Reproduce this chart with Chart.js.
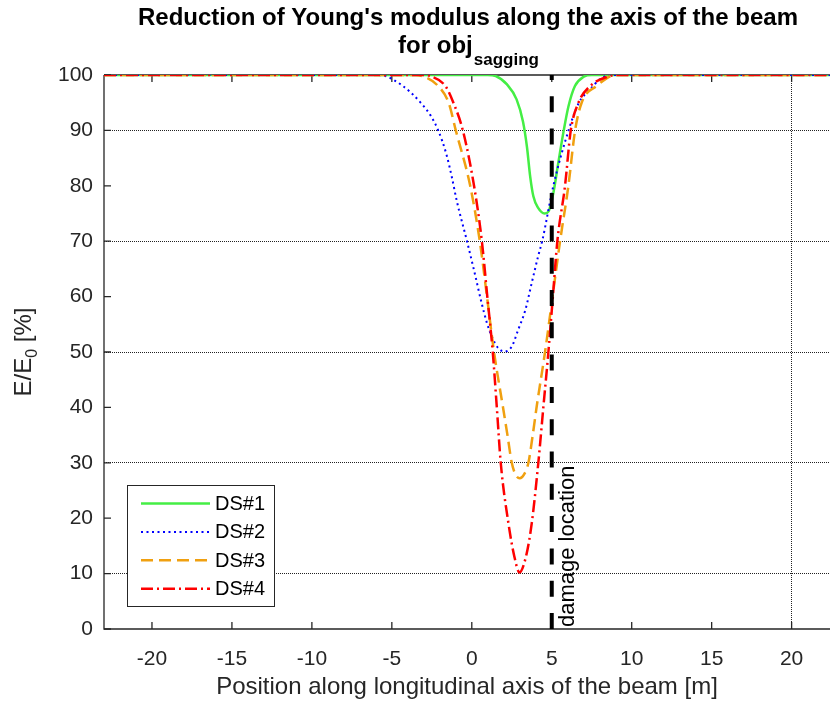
<!DOCTYPE html>
<html>
<head>
<meta charset="utf-8">
<script src="https://cdn.jsdelivr.net/npm/chart.js@4.4.1/dist/chart.umd.min.js"></script>
<style>
    html, body { margin: 0; padding: 0; background: #fff; }
    canvas { display: block; }
</style>
</head>
<body>
<canvas id="grafico" width="830" height="706"></canvas>
<script>
// testi
const titolo1 = "Reduction of Young's modulus along the axis of the beam";
const titolo2 = 'for obj';
const titolo2Pedice = 'sagging';
const etichettaX = 'Position along longitudinal axis of the beam [m]';
const etichettaY = ['E/E', '0', ' [%]'];
const testoDanno = 'damage location';

// assi
const serieNomi = ['DS#1', 'DS#2', 'DS#3', 'DS#4'];
const xMin = -23, xMax = 22.4;
const xTicks = [-20, -15, -10, -5, 0, 5, 10, 15, 20];
const yTicks = [0, 10, 20, 30, 40, 50, 60, 70, 80, 90, 100];
const xGriglia = [20];
const yGriglia = [10, 30, 50, 70, 90];
const posizioneDanno = 5;
const yDanno = [0, 100];

// valori
const ds1X = [-23, 1, 1.5, 2.2, 2.8, 3.2, 3.45, 3.65, 3.85, 4.15, 4.55, 4.8, 5.1, 5.4, 5.75, 6.05, 6.45, 7, 7.5, 22.4];
const ds1Y = [100, 100, 99.8, 98.3, 95.6, 91.6, 87, 81.7, 78.1, 76, 75, 75.4, 78.7, 84, 90, 94.4, 98, 99.7, 100, 100];

const ds2X = [-23, -6, -5.5, -5, -4.4, -3.8, -3.2, -2.6, -2.1, -1.6, -1.25, -0.95, -0.3, 0.2, 0.6, 0.95, 1.25, 1.65, 2.05, 2.5, 2.9, 3.35, 3.75, 4.15, 4.4, 5.1, 6.05, 6.7, 7.4, 8, 8.7, 22.4];
const ds2Y = [100, 100, 99.9, 99.3, 98.2, 96.8, 95, 92.8, 90, 85.8, 81.6, 77.4, 70, 64, 59, 55.2, 52.8, 50.7, 50.1, 51, 54, 57.6, 62.5, 67.3, 70, 80, 90, 95, 97.4, 99.2, 100, 100];

const ds3X = [-23, -3.5, -3, -2.1, -1.45, -1, -0.1, 0.5, 0.95, 1.39, 1.94, 2.23, 2.5, 2.75, 3.0, 3.25, 3.54, 3.81, 4.06, 4.58, 5.05, 5.52, 6.04, 6.46, 6.87, 7.8, 9, 22.4];
const ds3Y = [100, 100, 99.7, 98, 95, 90, 80, 70, 60, 50, 40.2, 35, 30, 27.8, 27.2, 27.8, 30, 35, 40.2, 50, 60, 70, 80, 90, 95, 98, 100, 100];

const ds4X = [-23, -3, -2.6, -1.65, -1.15, -0.56, 0.14, 0.63, 0.97, 1.31, 1.56, 1.81, 2.29, 2.66, 2.98, 3.39, 3.75, 4.16, 4.48, 4.79, 5.07, 5.35, 5.83, 6.19, 6.67, 7.4, 8.5, 9, 22.4];
const ds4Y = [100, 100, 99.8, 98, 95, 90, 80, 70, 60, 50, 40.2, 30, 19.1, 13.1, 10.2, 13.1, 19.1, 30, 40.2, 50, 60, 70, 80, 90, 95, 98, 99.7, 100, 100];

const fontBase = '"Liberation Sans", Arial, Helvetica, sans-serif';
const grigioScuro = '#262626';

function serie(xs, ys) {
    return xs.map((x, i) => ({ x: x, y: ys[i] }));
}

function coloreGriglia(valori) {
    return function (c) {
        return (c.tick && valori.includes(c.tick.value)) ? '#222222' : 'rgba(0,0,0,0)';
    };
}

// box, tacche interne, titoli, legenda e testo della linea di danno
const pluginDecorazioni = {
    id: 'decorazioni',
    beforeDatasetsDraw: function (chart) {
        const ctx = chart.ctx, a = chart.chartArea;
        const sx = chart.scales.x, sy = chart.scales.y;
        ctx.save();
        ctx.strokeStyle = grigioScuro;
        ctx.lineWidth = 1.3;
        ctx.beginPath();
        ctx.moveTo(a.left, a.top);
        ctx.lineTo(a.right + 5, a.top);
        ctx.moveTo(a.left, a.top);
        ctx.lineTo(a.left, a.bottom);
        ctx.lineTo(a.right + 5, a.bottom);
        ctx.stroke();

        ctx.beginPath();
        xTicks.forEach(function (v) {
            const p = sx.getPixelForValue(v);
            ctx.moveTo(p, a.bottom);
            ctx.lineTo(p, a.bottom - 7);
            ctx.moveTo(p, a.top);
            ctx.lineTo(p, a.top + 7);
        });
        yTicks.forEach(function (v) {
            const p = sy.getPixelForValue(v);
            ctx.moveTo(a.left, p);
            ctx.lineTo(a.left + 7, p);
        });
        ctx.stroke();
        ctx.restore();
    },
    afterDraw: function (chart) {
        const ctx = chart.ctx, a = chart.chartArea;
        const sx = chart.scales.x;
        const cx = (a.left + a.right) / 2 + 1;
        ctx.save();

        // titolo
        ctx.fillStyle = '#000';
        ctx.textBaseline = 'alphabetic';
        ctx.textAlign = 'center';
        ctx.font = 'bold 24px ' + fontBase;
        ctx.fillText(titolo1, cx, 25);
        ctx.textAlign = 'left';
        const w1 = ctx.measureText(titolo2).width;
        ctx.font = 'bold 17px ' + fontBase;
        const w2 = ctx.measureText(titolo2Pedice).width;
        const x0 = cx - (w1 + w2) / 2;
        ctx.font = 'bold 24px ' + fontBase;
        ctx.fillText(titolo2, x0, 53);
        ctx.font = 'bold 17px ' + fontBase;
        ctx.fillText(titolo2Pedice, x0 + w1 + 1, 65);

        // etichetta asse y
        ctx.fillStyle = grigioScuro;
        ctx.save();
        ctx.translate(31, (a.top + a.bottom) / 2);
        ctx.rotate(-Math.PI / 2);
        ctx.font = '24px ' + fontBase;
        const e1 = ctx.measureText(etichettaY[0]).width;
        const e3 = ctx.measureText(etichettaY[2]).width;
        ctx.font = '16px ' + fontBase;
        const e2 = ctx.measureText(etichettaY[1]).width;
        let px = -(e1 + e2 + e3) / 2;
        ctx.font = '24px ' + fontBase;
        ctx.fillText(etichettaY[0], px, 0);
        ctx.font = '16px ' + fontBase;
        ctx.fillText(etichettaY[1], px + e1, 6);
        ctx.font = '24px ' + fontBase;
        ctx.fillText(etichettaY[2], px + e1 + e2, 0);
        ctx.restore();

        // testo della linea di danno
        ctx.save();
        ctx.fillStyle = '#000';
        ctx.font = '22px ' + fontBase;
        ctx.translate(sx.getPixelForValue(posizioneDanno) + 22, a.bottom - 2);
        ctx.rotate(-Math.PI / 2);
        ctx.textAlign = 'left';
        ctx.fillText(testoDanno, 0, 0);
        ctx.restore();

        // legenda
        const bx = a.left + 23, by = a.bottom - 144, bw = 147, bh = 121;
        ctx.fillStyle = '#fff';
        ctx.fillRect(bx, by, bw, bh);
        ctx.strokeStyle = grigioScuro;
        ctx.lineWidth = 1;
        ctx.strokeRect(bx + 0.5, by + 0.5, bw, bh);
        ctx.font = '20px ' + fontBase;
        ctx.textBaseline = 'middle';
        serieNomi.forEach(function (nome, i) {
            const d = chart.data.datasets[i];
            const ry = by + 18.5 + i * 28.4;
            ctx.save();
            ctx.strokeStyle = d.borderColor;
            ctx.lineWidth = d.borderWidth;
            ctx.setLineDash(d.borderDash || []);
            ctx.beginPath();
            ctx.moveTo(bx + 14, ry);
            ctx.lineTo(bx + 83, ry);
            ctx.stroke();
            ctx.restore();
            ctx.fillStyle = '#000';
            ctx.fillText(nome, bx + 88, ry + 1);
        });
        ctx.restore();
    }
};

var ctx = document.getElementById('grafico').getContext('2d');

new Chart(ctx, {
    type: 'line',
    data: {
        datasets: [
            { label: serieNomi[0], data: serie(ds1X, ds1Y), borderColor: '#44ee44', borderWidth: 2.5, order: 5 },
            { label: serieNomi[1], data: serie(ds2X, ds2Y), borderColor: '#0000ff', borderWidth: 2, borderDash: [2, 3.5], order: 4 },
            { label: serieNomi[2], data: serie(ds3X, ds3Y), borderColor: '#f0a010', borderWidth: 2.5, borderDash: [12, 6], order: 3 },
            { label: serieNomi[3], data: serie(ds4X, ds4Y), borderColor: '#ff0000', borderWidth: 2.5, borderDash: [12, 4, 2, 4], order: 2 },
            { label: testoDanno, data: serie([posizioneDanno, posizioneDanno], yDanno), borderColor: '#000000', borderWidth: 4, borderDash: [16, 16.3], order: 1, cubicInterpolationMode: 'default', tension: 0 }
        ]
    },
    options: {
        responsive: false,
        animation: false,
        layout: { padding: { top: 75, left: 0, right: 0, bottom: 0 } },
        elements: {
            point: { radius: 0 },
            line: { cubicInterpolationMode: 'monotone', fill: false, borderCapStyle: 'butt' }
        },
        plugins: {
            legend: { display: false },
            tooltip: { enabled: false }
        },
        scales: {
            x: {
                type: 'linear',
                min: xMin,
                max: xMax,
                afterBuildTicks: function (s) { s.ticks = xTicks.map(v => ({ value: v })); },
                afterFit: function (s) { s.height = 77; },
                grid: { drawTicks: false, color: coloreGriglia(xGriglia), lineWidth: 1 },
                border: { display: false, dash: [1, 1] },
                ticks: { padding: 18, color: grigioScuro, font: { family: fontBase, size: 21 } },
                title: {
                    display: true,
                    text: etichettaX,
                    color: grigioScuro,
                    font: { family: fontBase, size: 24 },
                    padding: { top: 0, bottom: 4 }
                }
            },
            y: {
                type: 'linear',
                min: 0,
                max: 100,
                afterBuildTicks: function (s) { s.ticks = yTicks.map(v => ({ value: v })); },
                afterFit: function (s) { s.width = 104; },
                grid: { drawTicks: false, color: coloreGriglia(yGriglia), lineWidth: 1 },
                border: { display: false, dash: [1, 1] },
                ticks: { padding: 11, color: grigioScuro, font: { family: fontBase, size: 21 } }
            }
        }
    },
    plugins: [pluginDecorazioni]
});
</script>
</body>
</html>
